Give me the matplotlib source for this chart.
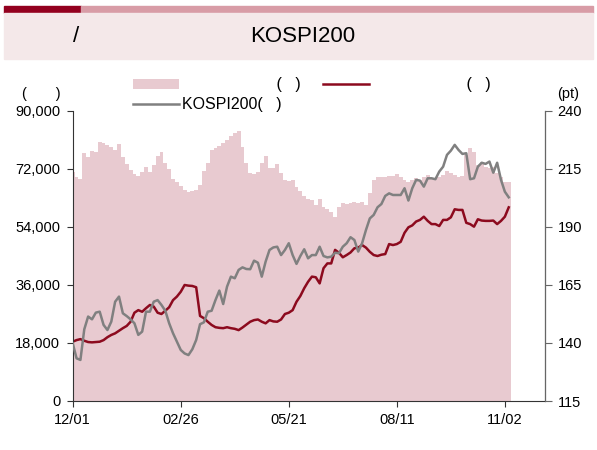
import numpy as np
import matplotlib
matplotlib.use("Agg")
import matplotlib.pyplot as plt
from matplotlib import font_manager
from matplotlib.patches import Rectangle
from matplotlib.ticker import FuncFormatter

# values (one point every ~2 trading days)
tick_pos = [0, 28, 56, 84, 112]
tick_labels = ['12/01', '02/26', '05/21', '08/11', '11/02']

volume = [71200, 69600, 68800, 76900, 75800, 77700, 77400, 80400, 80200, 79400,
          78700, 77900, 79800, 75800, 73600, 71700, 70400, 69800, 71200, 72500,
          71200, 73200, 76000, 77400, 74000, 71900, 68800, 68100, 66700, 65500,
          65000, 65200, 65500, 67000, 71500, 74000, 77900, 78600, 79200, 80000,
          81000, 82200, 83300, 83800, 78900, 73800, 70900, 70300, 71200, 74000,
          76000, 72200, 72200, 73600, 70700, 68600, 68400, 68600, 66500, 65300,
          63600, 62600, 62400, 60800, 62600, 60300, 59500, 58800, 57200, 60100,
          61300, 61100, 61300, 61900, 61300, 61900, 60800, 64700, 68600, 69600,
          69400, 69600, 69800, 69800, 70400, 69400, 68600, 68100, 68600, 69100,
          68600, 69400, 70100, 69100, 68800, 69400, 70100, 71500, 70700, 70100,
          69400, 69800, 76300, 78400, 77400, 73200, 74300, 72700, 72200, 72700,
          70700, 69400, 68100, 68100]

net_buy = [18400, 18900, 19200, 18700, 18300, 18200, 18300, 18400, 18900, 19800,
           20500, 21000, 21800, 22600, 23300, 24600, 27400, 28200, 27700, 28800,
           29800, 29300, 27400, 27000, 28000, 29100, 31300, 32400, 33900, 36000,
           35800, 35700, 35300, 26400, 25700, 24600, 23600, 22900, 22700, 22600,
           22900, 22600, 22400, 22000, 22800, 23700, 24600, 25100, 25300, 24600,
           24100, 25100, 24700, 24600, 25300, 27000, 27400, 28200, 30800, 32600,
           35000, 37000, 38600, 38400, 36500, 41200, 42700, 42700, 46900, 46000,
           44600, 45300, 46100, 47400, 47600, 48400, 47600, 46300, 45300, 45000,
           45400, 45600, 48700, 48400, 48700, 49400, 52200, 53900, 54500, 55700,
           56200, 57200, 55900, 54900, 54900, 54300, 56200, 56200, 57000, 59500,
           59300, 59300, 55300, 54900, 54100, 56400, 56000, 55900, 55900, 56000,
           54900, 55900, 57200, 60100]

kospi200 = [139.9, 133.4, 132.7, 145.9, 151.4, 150.2, 153.1, 153.5, 147.8, 145.6,
            149.2, 157.8, 160.0, 152.8, 151.6, 150.2, 148.5, 143.5, 144.9, 153.5,
            153.5, 157.8, 158.5, 156.4, 153.9, 148.5, 144.2, 140.6, 137.0, 135.5,
            134.8, 137.3, 141.3, 148.1, 148.9, 153.5, 153.9, 158.5, 162.6, 156.8,
            164.3, 168.6, 167.9, 171.5, 172.6, 171.9, 171.8, 175.5, 174.6, 168.6,
            175.1, 180.1, 181.2, 181.5, 177.9, 180.1, 183.0, 177.9, 174.1, 177.5,
            180.4, 176.5, 177.9, 177.9, 181.5, 177.5, 176.9, 177.2, 178.9, 178.7,
            181.5, 183.0, 185.6, 184.4, 179.4, 183.0, 188.7, 193.7, 195.2, 198.5,
            199.9, 203.4, 204.5, 203.8, 203.8, 203.8, 206.7, 201.4, 206.7, 210.3,
            210.0, 207.4, 211.0, 211.0, 210.6, 213.9, 216.0, 221.1, 222.9, 225.4,
            223.2, 221.5, 221.8, 210.6, 211.0, 216.0, 217.7, 217.2, 218.2, 213.4,
            217.7, 210.3, 205.2, 202.8]

x = np.arange(len(volume))

names = {f.name for f in font_manager.fontManager.ttflist}
base_font = 'Liberation Sans' if 'Liberation Sans' in names else 'DejaVu Sans'
title_font = 'Liberation Sans Narrow' if 'Liberation Sans Narrow' in names else base_font
plt.rcParams['font.family'] = [base_font, 'DejaVu Sans']

W, H = 597, 450
fig = plt.figure(figsize=(W / 100, H / 100), dpi=100)

# header band
fig.patches.append(Rectangle((4 / W, 1 - 12.7 / H), 77 / W, 6.7 / H, transform=fig.transFigure,
                             color='#93001f', zorder=0))
fig.patches.append(Rectangle((81 / W, 1 - 12.7 / H), 512 / W, 6.7 / H, transform=fig.transFigure,
                             color='#d89ca6', zorder=0))
fig.patches.append(Rectangle((4 / W, 1 - 59 / H), 589 / W, 46.3 / H, transform=fig.transFigure,
                             color='#f4e8e9', zorder=0))
tsize = 20 if title_font != base_font else 16
fig.text(76.5 / W, 1 - 36 / H, '/', ha='center', va='center', fontsize=tsize, family=title_font)
fig.text(303 / W, 1 - 37 / H, 'KOSPI200', ha='center', va='center', fontsize=tsize, family=title_font)

ax = fig.add_axes([72.7 / W, 49 / H, (545 - 72.7) / W, (401 - 111) / H])
ax2 = ax.twinx()

bars = ax.bar(x, volume, width=1.0, color='#e8cad0', linewidth=0, label='                     (   )')
red, = ax.plot(x, net_buy, color='#8c0a1e', lw=1.8, label='                     (   )')
grey, = ax2.plot(x, kospi200, color='#808080', lw=1.8, label='KOSPI200(   )')

ax.set_xlim(0, 122.4)
ax.set_ylim(0, 90000)
ax2.set_ylim(115, 240)
ax.set_yticks(np.arange(0, 90001, 18000))
ax2.set_yticks(np.arange(115, 241, 25))
ax.yaxis.set_major_formatter(FuncFormatter(lambda v, p: f'{v:,.0f}'))
ax.set_xticks(tick_pos)
ax.set_xticklabels(tick_labels)

for a in (ax, ax2):
    a.spines['top'].set_visible(False)
ax.spines['left'].set_color('#333333')
ax.spines['bottom'].set_color('#333333')
ax2.spines['right'].set_color('#666666')
ax2.spines['left'].set_visible(False)
ax2.spines['bottom'].set_visible(False)
ax.tick_params(axis='y', direction='out', length=4, pad=5, labelsize=10.5, color='#333333')
ax.tick_params(axis='x', direction='out', length=4, pad=5, labelsize=10.5, color='#333333')
ax2.tick_params(axis='y', direction='out', length=5, pad=4, labelsize=10.5, color='#666666')

fig.text(21.7 / W, 1 - 94 / H, '(       )', ha='left', va='center', fontsize=10.5)
fig.text(557 / W, 1 - 94 / H, '(pt)', ha='left', va='center', fontsize=10.5)

fig.legend([bars, grey, red], [bars.get_label(), grey.get_label(), red.get_label()],
           ncol=2, loc='upper left', bbox_to_anchor=(133 / W, 1 - 77.5 / H),
           frameon=False, fontsize=11.5, borderpad=0, borderaxespad=0,
           handlelength=2.9, handleheight=0.65, handletextpad=0.15,
           columnspacing=1.4, labelspacing=0.3)

fig.savefig('out.png', dpi=100)
